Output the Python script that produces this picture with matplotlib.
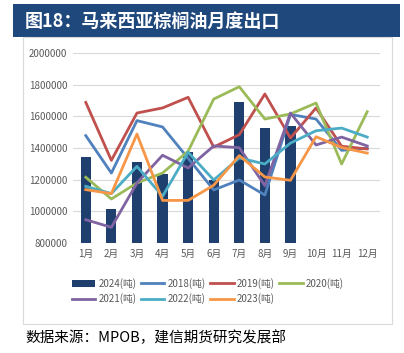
import numpy as np
import matplotlib.pyplot as plt
from matplotlib.patches import Rectangle
from matplotlib.ticker import FuncFormatter

plt.rcParams['font.family'] = ['Noto Sans CJK SC', 'DejaVu Sans']

# ---- data (tonnes) ----
months = ['1月', '2月', '3月', '4月', '5月', '6月', '7月', '8月', '9月', '10月', '11月', '12月']
y2024 = [1343000, 1017000, 1314000, 1234000, 1375000, 1200000, 1690000, 1526000, 1539000]
y2018 = [1478000, 1242000, 1573000, 1533000, 1335000, 1135000, 1198000, 1103000, 1612000, 1583000, 1385000, 1400000]
y2019 = [1688000, 1322000, 1621000, 1653000, 1720000, 1406000, 1484000, 1741000, 1463000, 1653000, 1411000, 1394000]
y2020 = [1215000, 1078000, 1179000, 1242000, 1380000, 1709000, 1787000, 1583000, 1615000, 1684000, 1299000, 1629000]
y2021 = [947000, 899000, 1179000, 1354000, 1274000, 1413000, 1402000, 1162000, 1621000, 1419000, 1469000, 1413000]
y2022 = [1158000, 1112000, 1284000, 1095000, 1373000, 1198000, 1337000, 1299000, 1431000, 1509000, 1526000, 1469000]
y2023 = [1137000, 1112000, 1488000, 1069000, 1069000, 1165000, 1352000, 1217000, 1196000, 1471000, 1403000, 1368000]

lines = [
    ('2018(吨)', y2018, '#4F81BD'),
    ('2019(吨)', y2019, '#C0504D'),
    ('2020(吨)', y2020, '#9BBB59'),
    ('2021(吨)', y2021, '#8064A2'),
    ('2022(吨)', y2022, '#4BACC6'),
    ('2023(吨)', y2023, '#F79646'),
]

fig = plt.figure(figsize=(4.04, 3.53), dpi=100)
W, H = 404, 353

# title banner
fig.patches.append(Rectangle((13 / W, 1 - 37 / H), 387 / W, 33 / H, transform=fig.transFigure,
                             facecolor='#1F497D', edgecolor='none'))
fig.text(25 / W, 1 - 21 / H, '图18：马来西亚棕榈油月度出口', color='white', fontsize=13,
         fontweight='bold', va='center', ha='left')

# chart frame
fig.patches.append(Rectangle((23 / W, 1 - 324 / H), 369 / W, 287 / H, transform=fig.transFigure,
                             facecolor='none', edgecolor='#D9D9D9', linewidth=0.8))

ax = fig.add_axes([73 / W, 1 - 243 / H, 307 / W, 190 / H])
x = np.arange(len(months))
bars = ax.bar(x[:len(y2024)], y2024, width=0.4, color='#1F3F6E', label='2024(吨)', zorder=2)
handles = {'2024(吨)': bars}
for name, vals, col in lines:
    ln, = ax.plot(x, vals, color=col, linewidth=2, label=name, zorder=3)
    handles[name] = ln

ax.set_ylim(800000, 2000000)
ax.set_yticks(np.arange(800000, 2000001, 200000))
ax.yaxis.set_major_formatter(FuncFormatter(lambda v, p: '%d' % v))
ax.set_xlim(-0.5, 11.5)
ax.set_xticks(x)
ax.set_xticklabels(months)
ax.grid(axis='y', color='#D9D9D9', linewidth=0.8, zorder=0)
for s in ax.spines.values():
    s.set_visible(False)
ax.tick_params(length=0, labelsize=7, colors='#595959', pad=4)

# legend filled column-wise, so order gives row-wise layout
order = ['2024(吨)', '2021(吨)', '2018(吨)', '2022(吨)', '2019(吨)', '2023(吨)', '2020(吨)']
fig.legend([handles[k] for k in order], order, loc='upper left',
           bbox_to_anchor=(72 / W, 1 - 278 / H), ncol=4, frameon=False,
           fontsize=7, labelcolor='#595959', handlelength=2.4, handletextpad=0.3,
           columnspacing=0.5, labelspacing=0.45, borderaxespad=0, borderpad=0)

fig.text(25 / W, 1 - 338 / H, '数据来源：MPOB，建信期货研究发展部', fontsize=10.5,
         va='center', ha='left', color='black')

fig.savefig('out.png', dpi=100)
